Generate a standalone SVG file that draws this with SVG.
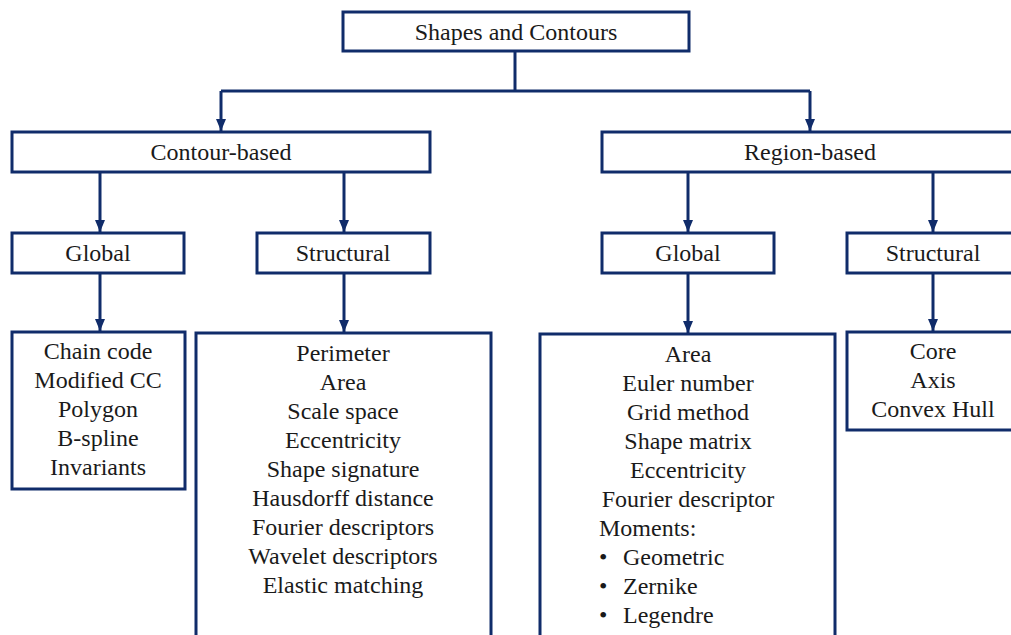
<svg xmlns="http://www.w3.org/2000/svg" width="1011" height="635" viewBox="0 0 1011 635">
  <style>
    .box { fill: #ffffff; stroke: #102c6a; stroke-width: 3; }
    .lbl { font-family: "Liberation Serif", "Times New Roman", serif; font-size: 24px; fill: #1a1a1a; text-anchor: middle; }
    .left { text-anchor: start; }
    .wire { fill: none; stroke: #102c6a; stroke-width: 3; }
  </style>
  <defs>
    <marker id="arrow" markerUnits="userSpaceOnUse" markerWidth="12" markerHeight="12" viewBox="0 0 12 12" refX="12" refY="6" orient="auto">
      <path d="M0,1 L12,6 L0,11 Z" fill="#102c6a"/>
    </marker>
  </defs>
  <rect width="1011" height="635" fill="#ffffff"/>

  <!-- connectors -->
  <g id="connectors">
    <path class="wire" d="M515,51 V91"/>
    <path class="wire" d="M221,91 H810"/>
    <path class="wire" d="M221,91 V131" marker-end="url(#arrow)"/>
    <path class="wire" d="M810,91 V131" marker-end="url(#arrow)"/>
    <path class="wire" d="M100,172 V232" marker-end="url(#arrow)"/>
    <path class="wire" d="M344,172 V232" marker-end="url(#arrow)"/>
    <path class="wire" d="M688,172 V232" marker-end="url(#arrow)"/>
    <path class="wire" d="M933,172 V232" marker-end="url(#arrow)"/>
    <path class="wire" d="M100,273 V331" marker-end="url(#arrow)"/>
    <path class="wire" d="M344,273 V332" marker-end="url(#arrow)"/>
    <path class="wire" d="M688,273 V333" marker-end="url(#arrow)"/>
    <path class="wire" d="M933,273 V331" marker-end="url(#arrow)"/>
  </g>

  <!-- root -->
  <g id="root">
    <rect class="box" x="343" y="12" width="346" height="39"/>
    <text class="lbl" x="516" y="40">Shapes and Contours</text>
  </g>

  <!-- level 1 -->
  <g id="contour-based">
    <rect class="box" x="12" y="132" width="418" height="40"/>
    <text class="lbl" x="221" y="160">Contour-based</text>
  </g>
  <g id="region-based">
    <rect class="box" x="602" y="132" width="420" height="40"/>
    <text class="lbl" x="810" y="160">Region-based</text>
  </g>

  <!-- level 2 -->
  <g id="contour-global">
    <rect class="box" x="12" y="233" width="172" height="40"/>
    <text class="lbl" x="98" y="261">Global</text>
  </g>
  <g id="contour-structural">
    <rect class="box" x="257" y="233" width="173" height="40"/>
    <text class="lbl" x="343" y="261">Structural</text>
  </g>
  <g id="region-global">
    <rect class="box" x="602" y="233" width="172" height="40"/>
    <text class="lbl" x="688" y="261">Global</text>
  </g>
  <g id="region-structural">
    <rect class="box" x="847" y="233" width="175" height="40"/>
    <text class="lbl" x="933" y="261">Structural</text>
  </g>

  <!-- level 3 -->
  <g id="contour-global-methods">
    <rect class="box" x="12" y="332" width="173" height="157"/>
    <text class="lbl" x="98" y="359">Chain code</text>
    <text class="lbl" x="98" y="388">Modified CC</text>
    <text class="lbl" x="98" y="417">Polygon</text>
    <text class="lbl" x="98" y="446">B-spline</text>
    <text class="lbl" x="98" y="475">Invariants</text>
  </g>
  <g id="contour-structural-methods">
    <rect class="box" x="196" y="333" width="295" height="320"/>
    <text class="lbl" x="343" y="361">Perimeter</text>
    <text class="lbl" x="343" y="390">Area</text>
    <text class="lbl" x="343" y="419">Scale space</text>
    <text class="lbl" x="343" y="448">Eccentricity</text>
    <text class="lbl" x="343" y="477">Shape signature</text>
    <text class="lbl" x="343" y="506">Hausdorff distance</text>
    <text class="lbl" x="343" y="535">Fourier descriptors</text>
    <text class="lbl" x="343" y="564">Wavelet descriptors</text>
    <text class="lbl" x="343" y="593">Elastic matching</text>
  </g>
  <g id="region-global-methods">
    <rect class="box" x="540" y="334" width="295" height="320"/>
    <text class="lbl" x="688" y="362">Area</text>
    <text class="lbl" x="688" y="391">Euler number</text>
    <text class="lbl" x="688" y="420">Grid method</text>
    <text class="lbl" x="688" y="449">Shape matrix</text>
    <text class="lbl" x="688" y="478">Eccentricity</text>
    <text class="lbl" x="688" y="507">Fourier descriptor</text>
    <text class="lbl left" x="599" y="536">Moments:</text>
    <text class="lbl left" x="599" y="565">•</text>
    <text class="lbl left" x="623" y="565">Geometric</text>
    <text class="lbl left" x="599" y="594">•</text>
    <text class="lbl left" x="623" y="594">Zernike</text>
    <text class="lbl left" x="599" y="623">•</text>
    <text class="lbl left" x="623" y="623">Legendre</text>
  </g>
  <g id="region-structural-methods">
    <rect class="box" x="847" y="332" width="175" height="98"/>
    <text class="lbl" x="933" y="359">Core</text>
    <text class="lbl" x="933" y="388">Axis</text>
    <text class="lbl" x="933" y="417">Convex Hull</text>
  </g>
</svg>
